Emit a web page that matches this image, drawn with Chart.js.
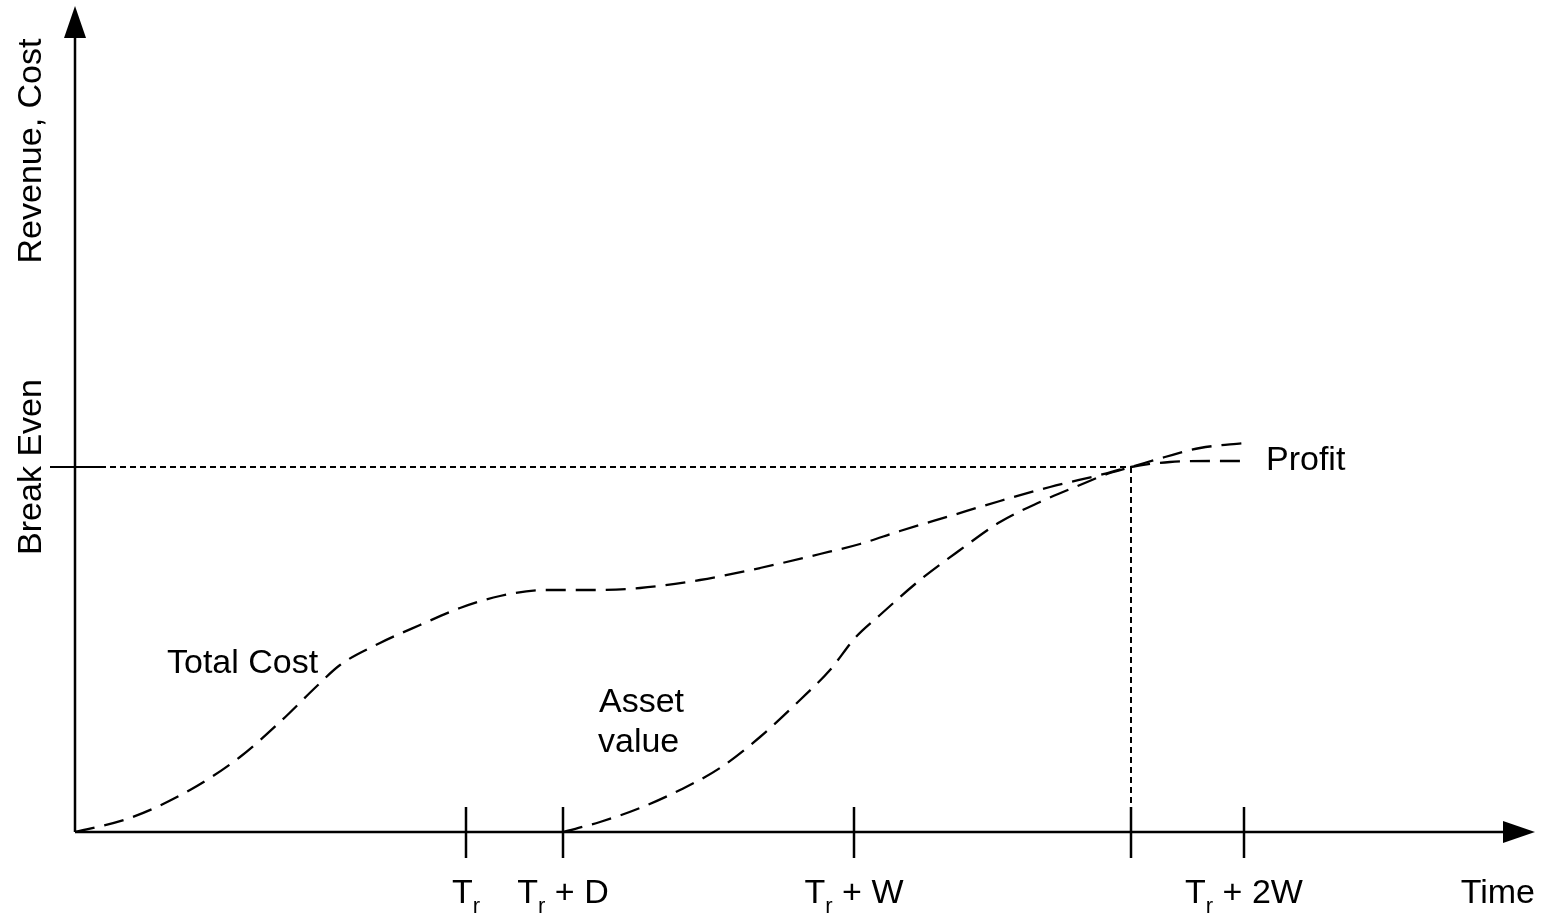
<!DOCTYPE html>
<html>
<head>
<meta charset="utf-8">
<script src="https://cdn.jsdelivr.net/npm/chart.js@4/dist/chart.umd.min.js"></script>
<style>
  html, body { margin: 0; padding: 0; background: #fff; }
  #wrap { width: 1551px; height: 914px; position: relative; }
</style>
</head>
<body>
<div id="wrap"><canvas id="chart"></canvas></div>
<script>
// time runs left to right, money bottom to top (arbitrary units)
const costTime  = [0, 55, 115, 165, 205, 243, 265, 305, 345, 385, 425, 470, 515, 565, 625, 685, 745, 785, 825, 875, 925, 975, 1025, 1056, 1095, 1135, 1170];
const costValue = [0, 14, 42, 75, 110, 147, 167, 189, 207, 224, 236, 242, 242, 244, 252, 264, 278, 288, 301, 316, 331, 345, 357, 365, 370, 371, 371];

const assetTime  = [488, 525, 565, 605, 645, 685, 725, 755, 780, 805, 845, 885, 925, 965, 1005, 1035, 1056, 1090, 1125, 1170];
const assetValue = [0, 10, 24, 42, 64, 95, 132, 162, 194, 217, 252, 282, 310, 330, 347, 359, 365, 375, 384, 389];

const breakEven = 365;
const breakEvenTime = 1056;

const tickTimes = [391, 488, 779, 1056, 1169];
const tickMain  = ['T', 'T', 'T', '', 'T'];
const tickSub   = ['r', 'r', 'r', '', 'r'];
const tickRest  = ['', ' + D', ' + W', '', ' + 2W'];

const xMax = 1460;
const yMax = 826;

const FONT = '"Liberation Sans", Arial, Helvetica, sans-serif';

const toPoints = (xs, ys) => xs.map((x, i) => ({ x: x, y: ys[i] }));

// text notes placed in data units
const notes = [
  { text: 'Total Cost', x: 92, y: 159 },
  { text: 'Asset', x: 524, y: 120 },
  { text: 'value', x: 523, y: 80 },
  { text: 'Profit', x: 1191, y: 362 }
];

const axesPlugin = {
  id: 'axesPlugin',
  beforeDatasetsDraw(chart) {
    const ctx = chart.ctx;
    const xs = chart.scales.x, ys = chart.scales.y;
    const x0 = xs.getPixelForValue(0), y0 = ys.getPixelForValue(0);
    const xEnd = xs.getPixelForValue(xMax), yTop = ys.getPixelForValue(yMax);
    ctx.save();
    ctx.strokeStyle = '#000';
    ctx.fillStyle = '#000';
    ctx.lineWidth = 2.5;
    // axes
    ctx.beginPath();
    ctx.moveTo(x0, y0); ctx.lineTo(x0, yTop + 30);
    ctx.moveTo(x0, y0); ctx.lineTo(xEnd - 30, y0);
    ctx.stroke();
    // arrow heads
    ctx.beginPath();
    ctx.moveTo(x0, yTop); ctx.lineTo(x0 - 11, yTop + 32); ctx.lineTo(x0 + 11, yTop + 32); ctx.closePath();
    ctx.fill();
    ctx.beginPath();
    ctx.moveTo(xEnd, y0); ctx.lineTo(xEnd - 32, y0 - 11); ctx.lineTo(xEnd - 32, y0 + 11); ctx.closePath();
    ctx.fill();
    // break-even tick on y axis
    const yb = ys.getPixelForValue(breakEven);
    ctx.lineWidth = 2;
    ctx.beginPath();
    ctx.moveTo(x0 - 25, yb); ctx.lineTo(x0 + 25, yb);
    ctx.stroke();
    // x ticks
    ctx.lineWidth = 2.5;
    tickTimes.forEach(t => {
      const px = xs.getPixelForValue(t);
      ctx.beginPath();
      ctx.moveTo(px, y0 - 25); ctx.lineTo(px, y0 + 26);
      ctx.stroke();
    });
    ctx.restore();
  },
  afterDraw(chart) {
    const ctx = chart.ctx;
    const xs = chart.scales.x, ys = chart.scales.y;
    const y0 = ys.getPixelForValue(0);
    ctx.save();
    ctx.fillStyle = '#000';
    ctx.textBaseline = 'alphabetic';
    const big = '34px ' + FONT, small = '22px ' + FONT;
    // tick labels with subscript
    tickTimes.forEach((t, i) => {
      if (!tickMain[i]) return;
      ctx.font = big;
      const wMain = ctx.measureText(tickMain[i]).width;
      const wRest = ctx.measureText(tickRest[i]).width;
      ctx.font = small;
      const wSub = ctx.measureText(tickSub[i]).width;
      let px = xs.getPixelForValue(t) - (wMain + wSub + wRest) / 2;
      const base = y0 + 71;
      ctx.textAlign = 'left';
      ctx.font = big; ctx.fillText(tickMain[i], px, base); px += wMain;
      ctx.font = small; ctx.fillText(tickSub[i], px, base + 10); px += wSub;
      ctx.font = big; ctx.fillText(tickRest[i], px, base);
    });
    ctx.font = big;
    ctx.textAlign = 'right';
    ctx.fillText('Time', xs.getPixelForValue(xMax), y0 + 71);
    // notes
    ctx.textAlign = 'left';
    notes.forEach(n => ctx.fillText(n.text, xs.getPixelForValue(n.x), ys.getPixelForValue(n.y)));
    // rotated y labels
    const drawRot = (txt, cy) => {
      ctx.save();
      ctx.translate(41, cy);
      ctx.rotate(-Math.PI / 2);
      ctx.textAlign = 'center';
      ctx.fillText(txt, 0, 0);
      ctx.restore();
    };
    drawRot('Revenue, Cost', ys.getPixelForValue(681));
    drawRot('Break Even', ys.getPixelForValue(breakEven));
    ctx.restore();
  }
};

new Chart(document.getElementById('chart').getContext('2d'), {
  type: 'line',
  data: {
    datasets: [
      {
        label: 'Break even',
        data: [{ x: 25, y: breakEven }, { x: breakEvenTime, y: breakEven }],
        borderColor: '#000', borderWidth: 2, borderDash: [6, 4],
        pointRadius: 0, tension: 0
      },
      {
        label: 'Break even time',
        data: [{ x: breakEvenTime, y: breakEven }, { x: breakEvenTime, y: 0 }],
        borderColor: '#000', borderWidth: 2, borderDash: [6, 4],
        pointRadius: 0, tension: 0
      },
      {
        label: 'Total Cost',
        data: toPoints(costTime, costValue),
        borderColor: '#000', borderWidth: 2.3, borderDash: [20, 10],
        pointRadius: 0, cubicInterpolationMode: 'monotone'
      },
      {
        label: 'Asset value',
        data: toPoints(assetTime, assetValue),
        borderColor: '#000', borderWidth: 2.3, borderDash: [20, 10],
        pointRadius: 0, cubicInterpolationMode: 'monotone'
      }
    ]
  },
  options: {
    responsive: true,
    maintainAspectRatio: false,
    animation: false,
    events: [],
    layout: { padding: { left: 75, right: 16, top: 6, bottom: 82 } },
    scales: {
      x: { type: 'linear', min: 0, max: xMax, display: false },
      y: { type: 'linear', min: 0, max: yMax, display: false }
    },
    plugins: {
      legend: { display: false },
      tooltip: { enabled: false }
    }
  },
  plugins: [axesPlugin]
});
</script>
</body>
</html>
